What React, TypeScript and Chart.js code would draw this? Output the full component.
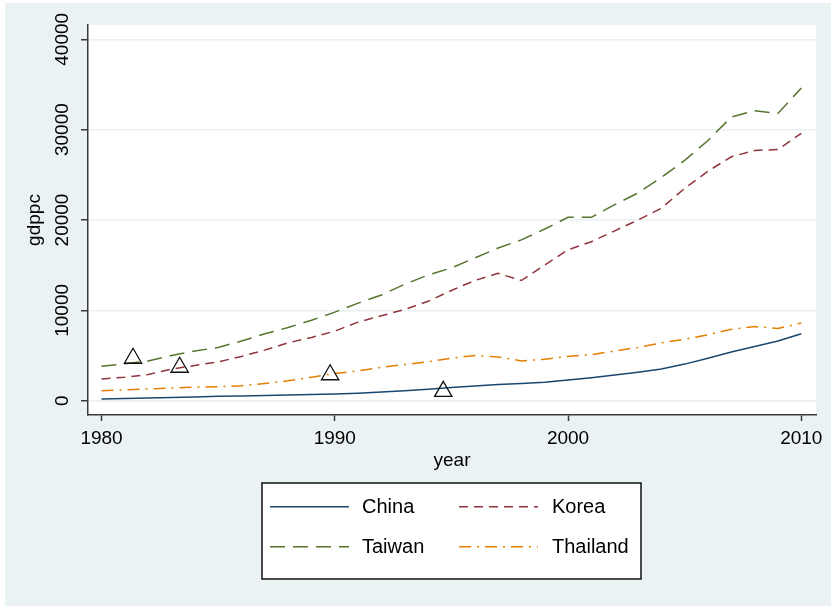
import React, { useEffect, useRef } from "react";
import { Chart, registerables } from "chart.js";

Chart.register(...registerables);

const years = [
  1980, 1981, 1982, 1983, 1984, 1985, 1986, 1987, 1988, 1989,
  1990, 1991, 1992, 1993, 1994, 1995, 1996, 1997, 1998, 1999,
  2000, 2001, 2002, 2003, 2004, 2005, 2006, 2007, 2008, 2009, 2010,
];

const china = [
  200, 250, 300, 350, 420, 480, 530, 580, 630, 690,
  750, 830, 950, 1100, 1280, 1450, 1620, 1780, 1900, 2050,
  2300, 2550, 2850, 3150, 3500, 4050, 4700, 5400, 6000, 6600, 7400,
];

const korea = [
  2400, 2600, 2900, 3500, 3900, 4300, 4900, 5600, 6400, 7000,
  7700, 8700, 9400, 10100, 11000, 12200, 13300, 14100, 13300, 15000,
  16700, 17600, 18800, 20000, 21300, 23500, 25400, 27000, 27700, 27800, 29600,
];

const taiwan = [
  3800, 4100, 4400, 5000, 5500, 5900, 6600, 7400, 8100, 8900,
  9800, 10800, 11700, 12900, 13900, 14700, 15800, 16900, 17800, 19000,
  20300, 20300, 21700, 23000, 24700, 26600, 28800, 31400, 32100, 31800, 34600,
];

const thailand = [
  1100, 1200, 1300, 1400, 1500, 1550, 1650, 1900, 2200, 2600,
  3000, 3300, 3700, 4000, 4300, 4700, 5000, 4850, 4400, 4600,
  4900, 5100, 5500, 5900, 6400, 6800, 7300, 7900, 8200, 8000, 8600,
];

const markerYears = [1981.35, 1983.35, 1989.8, 1994.65];
const markerValues = [4700, 3700, 2870, 1030];

const seriesNames = ["China", "Korea", "Taiwan", "Thailand"];
const yTicks = [0, 10000, 20000, 30000, 40000];
const xTicks = [1980, 1990, 2000, 2010];

const FONT = '"Liberation Sans", Arial, sans-serif';
const BG = "#eaf2f3";
const AXIS = "#3a3a3a";

const toXY = (vals: number[]) => vals.map((v, i) => ({ x: years[i], y: v }));

const bgPlugin = {
  id: "bgPlugin",
  beforeDraw(chart: any) {
    const { ctx, chartArea } = chart;
    ctx.save();
    ctx.fillStyle = BG;
    ctx.fillRect(0, 0, chart.width, chart.height);
    ctx.fillStyle = "#ffffff";
    ctx.fillRect(chartArea.left, chartArea.top, chartArea.right - chartArea.left, chartArea.bottom - chartArea.top);
    ctx.restore();
  },
};

const yLabelPlugin = {
  id: "yLabelPlugin",
  afterDraw(chart: any) {
    const { ctx } = chart;
    const ys = chart.scales.y;
    ctx.save();
    ctx.fillStyle = "#000";
    ctx.font = `19px ${FONT}`;
    ctx.textAlign = "center";
    ctx.textBaseline = "middle";
    for (const v of yTicks) {
      const py = ys.getPixelForValue(v);
      ctx.save();
      ctx.translate(57.5, py);
      ctx.rotate(-Math.PI / 2);
      ctx.fillText(String(v), 0, 0);
      ctx.restore();
    }
    ctx.restore();
  },
};

const legendPlugin = {
  id: "boxLegend",
  afterDraw(chart: any) {
    const { ctx } = chart;
    const box = { x: 257, y: 480, w: 379, h: 96 };
    ctx.save();
    ctx.fillStyle = "#ffffff";
    ctx.fillRect(box.x, box.y, box.w, box.h);
    ctx.strokeStyle = "#111";
    ctx.lineWidth = 1.5;
    ctx.setLineDash([]);
    ctx.strokeRect(box.x, box.y, box.w, box.h);
    const cols = [
      { lx0: 265, lx1: 344, tx: 357 },
      { lx0: 454, lx1: 533, tx: 547 },
    ];
    const rows = [503.7, 543.7];
    const dsList = chart.data.datasets.filter((d: any) => seriesNames.includes(d.label));
    dsList.forEach((ds: any, i: number) => {
      const c = cols[i % 2];
      const r = rows[Math.floor(i / 2)];
      ctx.strokeStyle = ds.borderColor;
      ctx.lineWidth = ds.borderWidth;
      ctx.setLineDash(ds.borderDash || []);
      ctx.beginPath();
      ctx.moveTo(c.lx0, r);
      ctx.lineTo(c.lx1, r);
      ctx.stroke();
      ctx.setLineDash([]);
      ctx.fillStyle = "#000";
      ctx.font = `20px ${FONT}`;
      ctx.textAlign = "left";
      ctx.textBaseline = "middle";
      ctx.fillText(ds.label, c.tx, r + 1);
    });
    ctx.restore();
  },
};

export default function App() {
  const ref = useRef<HTMLCanvasElement | null>(null);

  useEffect(() => {
    if (!ref.current) return;
    const lineBase = {
      type: "line" as const,
      pointRadius: 0,
      borderWidth: 1.5,
      tension: 0,
      fill: false,
    };
    const chart = new Chart(ref.current, {
      type: "line",
      data: {
        datasets: [
          {
            label: "markers",
            type: "scatter",
            data: markerYears.map((x, i) => ({ x, y: markerValues[i] })),
            pointStyle: "triangle",
            pointRadius: 10,
            borderColor: "#111",
            backgroundColor: "rgba(0,0,0,0)",
            borderWidth: 1.3,
            showLine: false,
          } as any,
          { ...lineBase, label: seriesNames[0], data: toXY(china), borderColor: "#1a476f", borderDash: [] },
          { ...lineBase, label: seriesNames[1], data: toXY(korea), borderColor: "#90353b", borderDash: [9, 6] },
          { ...lineBase, label: seriesNames[2], data: toXY(taiwan), borderColor: "#55752f", borderDash: [15, 8] },
          { ...lineBase, label: seriesNames[3], data: toXY(thailand), borderColor: "#e37e00", borderDash: [12, 6, 2, 6] },
        ],
      },
      options: {
        animation: false,
        responsive: false,
        devicePixelRatio: 1,
        layout: { padding: { left: 0, top: 22, right: 15, bottom: 129 } },
        plugins: { legend: { display: false }, tooltip: { enabled: false } },
        scales: {
          x: {
            type: "linear",
            min: 1979.42,
            max: 2010.63,
            afterFit: (s: any) => { s.height = 62; },
            afterBuildTicks: (s: any) => { s.ticks = xTicks.map((v) => ({ value: v })); },
            grid: { display: true, drawOnChartArea: false, tickLength: 6, tickColor: AXIS, tickWidth: 1.5 },
            border: { display: true, color: AXIS, width: 1.5 },
            ticks: { color: "#000", font: { family: FONT, size: 19 }, padding: 6, callback: (v: any) => String(v) },
            title: { display: true, text: "year", color: "#000", font: { family: FONT, size: 19 }, padding: { top: 0, bottom: 5 } },
          },
          y: {
            type: "linear",
            min: -1583,
            max: 41583,
            afterFit: (s: any) => { s.width = 83; },
            afterBuildTicks: (s: any) => { s.ticks = yTicks.map((v) => ({ value: v })); },
            grid: { display: true, color: "#e8f0f1", lineWidth: 1.5, tickLength: 7, tickColor: AXIS, tickWidth: 1.5 },
            border: { display: true, color: AXIS, width: 1.5 },
            ticks: { display: false },
            title: { display: true, text: "gdppc", color: "#000", font: { family: FONT, size: 19 }, padding: { top: 18.6, bottom: 0 } },
          },
        },
      } as any,
      plugins: [bgPlugin, yLabelPlugin, legendPlugin],
    });
    return () => chart.destroy();
  }, []);

  return (
    <div style={{ position: "absolute", left: 5, top: 3, width: 826, height: 603, background: BG }}>
      <canvas ref={ref} width={826} height={603} style={{ display: "block" }} />
    </div>
  );
}
